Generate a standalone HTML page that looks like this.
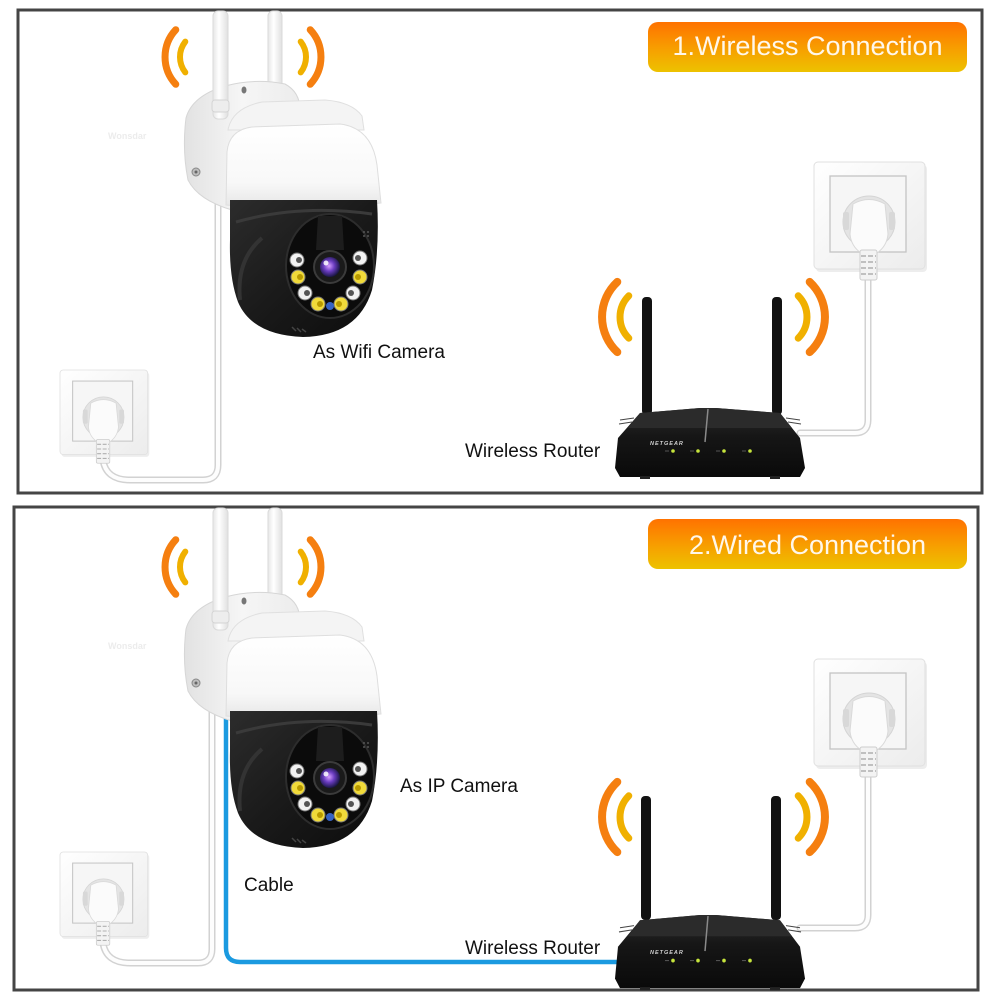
<!DOCTYPE html>
<html><head><meta charset="utf-8"><style>
html,body{margin:0;padding:0;background:#fff;}
svg{display:block;}
text{font-family:"Liberation Sans",Arial,sans-serif;}
</style></head><body>
<svg width="1000" height="1000" viewBox="0 0 1000 1000" xmlns="http://www.w3.org/2000/svg">
<defs>
 <linearGradient id="badge" x1="0" y1="0" x2="0" y2="1">
  <stop offset="0" stop-color="#ff7200"/><stop offset="0.55" stop-color="#f7a000"/><stop offset="1" stop-color="#edc200"/>
 </linearGradient>
 <linearGradient id="outGrad" x1="0" y1="0" x2="1" y2="1">
  <stop offset="0" stop-color="#ffffff"/><stop offset="1" stop-color="#ececec"/>
 </linearGradient>
 <linearGradient id="domeGrad" x1="0" y1="0" x2="0" y2="1">
  <stop offset="0" stop-color="#ffffff"/><stop offset="0.7" stop-color="#f8f8f8"/><stop offset="1" stop-color="#e6e6e6"/>
 </linearGradient>
 <linearGradient id="brGrad" x1="0" y1="0" x2="1" y2="0">
  <stop offset="0" stop-color="#e2e2e2"/><stop offset="0.5" stop-color="#f6f6f6"/><stop offset="1" stop-color="#ececec"/>
 </linearGradient>
 <linearGradient id="antGrad" x1="0" y1="0" x2="1" y2="0">
  <stop offset="0" stop-color="#e6e6e6"/><stop offset="0.4" stop-color="#ffffff"/><stop offset="1" stop-color="#e0e0e0"/>
 </linearGradient>
 <linearGradient id="blackGrad" x1="0" y1="0" x2="1" y2="1">
  <stop offset="0" stop-color="#2c2c2c"/><stop offset="0.5" stop-color="#1a1a1a"/><stop offset="1" stop-color="#0c0c0c"/>
 </linearGradient>
 <radialGradient id="lensGrad" cx="0.45" cy="0.45" r="0.6">
  <stop offset="0" stop-color="#d6a0ff"/><stop offset="0.45" stop-color="#6a3cc0"/><stop offset="1" stop-color="#0d1030"/>
 </radialGradient>
 <linearGradient id="rtGrad" x1="0" y1="0" x2="0" y2="1">
  <stop offset="0" stop-color="#2e2e2e"/><stop offset="0.4" stop-color="#161616"/><stop offset="1" stop-color="#0a0a0a"/>
 </linearGradient>

 <g id="outlet">
  <rect x="2" y="3" width="111" height="107" rx="4" fill="#000" opacity="0.07"/>
  <rect x="0" y="0" width="111" height="107" rx="4" fill="url(#outGrad)" stroke="#e0e0e0"/>
  <rect x="16" y="14" width="76" height="76" fill="#f6f6f6" stroke="#c4c4c4" stroke-width="1.3"/>
  <circle cx="55" cy="60" r="26" fill="#e4e4e4" stroke="#d4d4d4"/>
  <rect x="29" y="50" width="6" height="18" rx="2" fill="#d8d8d8"/>
  <rect x="75" y="50" width="6" height="18" rx="2" fill="#d8d8d8"/>
  <path d="M39,42 Q55,33 71,42 L74,72 Q73,84 63,91 L47,91 Q37,84 36,72 Z" fill="#fbfbfb" stroke="#d9d9d9"/>
  <rect x="46" y="88" width="17" height="30" rx="2" fill="#f3f3f3" stroke="#cdcdcd"/>
  <g stroke="#b0b0b0" stroke-width="1.4" stroke-dasharray="5 2">
   <line x1="47" y1="94" x2="62" y2="94"/><line x1="47" y1="100" x2="62" y2="100"/>
   <line x1="47" y1="106" x2="62" y2="106"/><line x1="47" y1="112" x2="62" y2="112"/>
  </g>
 </g>

 <g id="cambody">
  <path d="M186,118 Q192,96 225,86 Q255,78 285,84 Q300,92 300,110 L300,205 L232,210 Q198,200 188,180 Q182,150 186,118 Z" fill="url(#brGrad)" stroke="#d6d6d6"/>
  <circle cx="196" cy="172" r="4" fill="#bdbdbd" stroke="#888"/>
  <circle cx="196" cy="172" r="1.5" fill="#666"/>
  <ellipse cx="244" cy="90" rx="2.5" ry="3.5" fill="#777"/>
 </g>
 <g id="camfront">
  <path d="M228,130 Q232,108 262,102 L325,100 Q352,102 362,116 L364,130 Z" fill="#f4f4f4" stroke="#e0e0e0"/>
  <path d="M226,205 L227,152 Q229,130 252,127 L340,124 Q372,128 377,165 L381,203 Q300,211 226,205 Z" fill="url(#domeGrad)" stroke="#dedede"/>
  <path d="M230,200 L377,200 Q380,250 372,290 Q358,336 303,337 Q252,335 238,302 Q229,278 230,240 Z" fill="url(#blackGrad)"/>
  <path d="M236,222 Q300,204 372,214" stroke="#3a3a3a" stroke-width="3" fill="none"/>
  <path d="M240,300 Q236,260 262,238" stroke="#333" stroke-width="4" fill="none"/>
  <ellipse cx="330" cy="266" rx="44" ry="52" fill="#0b0b0b" stroke="#2d2d2d" stroke-width="2"/>
  <path d="M318,216 L342,216 L344,250 L316,250 Z" fill="#1d1d1d"/>
  <circle cx="330" cy="267" r="16" fill="#1a1a1a" stroke="#3b3b3b" stroke-width="2"/>
  <circle cx="330" cy="267" r="10" fill="url(#lensGrad)"/>
  <circle cx="326" cy="263" r="2.5" fill="#fff" opacity="0.85"/>
  <g stroke="#777" stroke-width="1">
   <circle cx="297" cy="260" r="7" fill="#f2f2f2"/><circle cx="360" cy="258" r="7" fill="#f2f2f2"/>
   <circle cx="305" cy="293" r="7" fill="#f2f2f2"/><circle cx="353" cy="293" r="7" fill="#f2f2f2"/>
   <circle cx="298" cy="277" r="7" fill="#f0da3a"/><circle cx="360" cy="277" r="7" fill="#f0da3a"/>
   <circle cx="318" cy="304" r="7" fill="#f0da3a"/><circle cx="341" cy="304" r="7" fill="#f0da3a"/>
  </g>
  <g fill="#555">
   <circle cx="299" cy="260" r="3"/><circle cx="358" cy="258" r="3"/>
   <circle cx="307" cy="293" r="3"/><circle cx="351" cy="293" r="3"/>
  </g>
  <g fill="#b89a00">
   <circle cx="300" cy="277" r="3"/><circle cx="358" cy="277" r="3"/>
   <circle cx="320" cy="304" r="3"/><circle cx="339" cy="304" r="3"/>
  </g>
  <circle cx="330" cy="306" r="4" fill="#3563c4"/>
  <g fill="#555"><circle cx="364" cy="232" r="1"/><circle cx="368" cy="232" r="1"/><circle cx="364" cy="236" r="1"/><circle cx="368" cy="236" r="1"/></g>
  <path d="M292,327 L296,331 M297,328 L301,332 M302,329 L306,332" stroke="#444" stroke-width="1.5"/>
 </g>

 <g id="router">
  <path d="M640,413 L700,408 L716,408 L780,413 L800,438 L805,468 L800,477 L620,477 L615,468 L618,438 Z" fill="url(#rtGrad)"/>
  <path d="M640,413 L700,408 L716,408 L780,413 L792,428 L628,428 Z" fill="#2b2b2b"/>
  <path d="M708,409 L705,442" stroke="#8a8a8a" stroke-width="1.5"/>
  <g stroke="#444" stroke-width="1"><line x1="620" y1="420" x2="634" y2="418"/><line x1="619" y1="424" x2="632" y2="422"/><line x1="786" y1="418" x2="800" y2="420"/><line x1="788" y1="422" x2="801" y2="424"/></g>
  <text x="650" y="445" font-size="5.5" font-weight="bold" font-style="italic" fill="#cfcfcf" letter-spacing="1">NETGEAR</text>
  <g fill="#c6e43c"><circle cx="673" cy="451" r="1.8"/><circle cx="698" cy="451" r="1.8"/><circle cx="724" cy="451" r="1.8"/><circle cx="750" cy="451" r="1.8"/></g>
  <g stroke="#555" stroke-width="1"><line x1="665" y1="451" x2="669" y2="451"/><line x1="690" y1="451" x2="694" y2="451"/><line x1="716" y1="451" x2="720" y2="451"/><line x1="742" y1="451" x2="746" y2="451"/></g>
  <rect x="640" y="476" width="10" height="3" fill="#222"/><rect x="770" y="476" width="10" height="3" fill="#222"/>
 </g>
</defs>

<!-- ===== Panel 1 ===== -->
<rect x="18" y="10" width="964" height="483" fill="#fff" stroke="#454545" stroke-width="3"/>
<rect x="648" y="22" width="319" height="50" rx="10" fill="url(#badge)"/>
<text x="807.5" y="55" font-size="27" fill="#fff7ea" text-anchor="middle">1.Wireless Connection</text>

<text x="108" y="139" font-size="9" fill="#ececec" font-weight="bold">Wonsdar</text>

<g fill="none" stroke-linecap="round">
 <path d="M103,460 Q106,480 130,480 L203,480 Q218,480 218,465 L218,200" stroke="#d2d2d2" stroke-width="7"/>
 <path d="M103,460 Q106,480 130,480 L203,480 Q218,480 218,465 L218,200" stroke="#fdfdfd" stroke-width="4"/>
 <path d="M868,278 L868,420 Q868,433 855,433 L800,433" stroke="#d2d2d2" stroke-width="7"/>
 <path d="M868,278 L868,420 Q868,433 855,433 L800,433" stroke="#fdfdfd" stroke-width="4"/>
</g>

<rect x="268" y="11" width="14" height="100" rx="5" fill="url(#antGrad)" stroke="#dadada"/>
<use href="#cambody"/>
<rect x="213" y="11" width="15" height="108" rx="5" fill="url(#antGrad)" stroke="#dadada"/>
<rect x="212" y="100" width="17" height="12" rx="3" fill="#ededed" stroke="#d4d4d4"/>
<use href="#camfront"/>

<g fill="none" stroke-linecap="round">
 <path d="M175.8,29.7 A40,40 0 0 0 175.8,84.3" stroke="#f57f10" stroke-width="7"/>
 <path d="M185.3,41.6 A25,25 0 0 0 185.3,72.4" stroke="#f0b000" stroke-width="6"/>
 <path d="M310.2,29.7 A40,40 0 0 1 310.2,84.3" stroke="#f57f10" stroke-width="7"/>
 <path d="M300.7,41.6 A25,25 0 0 1 300.7,72.4" stroke="#f0b000" stroke-width="6"/>
</g>

<use href="#outlet" transform="translate(60,370) scale(0.79)"/>
<use href="#outlet" transform="translate(814,162)"/>

<rect x="642" y="297" width="10" height="118" rx="4" fill="#121212"/>
<rect x="772" y="297" width="10" height="118" rx="4" fill="#121212"/>
<use href="#router"/>
<g fill="none" stroke-linecap="round">
 <path d="M617.3,281.9 A48,48 0 0 0 617.3,352.1" stroke="#f57f10" stroke-width="8"/>
 <path d="M628.8,295.8 A30,30 0 0 0 628.8,338.2" stroke="#f0b000" stroke-width="7"/>
 <path d="M809.7,281.9 A48,48 0 0 1 809.7,352.1" stroke="#f57f10" stroke-width="8"/>
 <path d="M798.2,295.8 A30,30 0 0 1 798.2,338.2" stroke="#f0b000" stroke-width="7"/>
</g>

<text x="313" y="358" font-size="19" fill="#111">As Wifi Camera</text>
<text x="465" y="457" font-size="19" fill="#111">Wireless Router</text>

<!-- ===== Panel 2 ===== -->
<rect x="14" y="507" width="964" height="483" fill="#fff" stroke="#454545" stroke-width="3"/>
<rect x="648" y="519" width="319" height="50" rx="10" fill="url(#badge)"/>
<text x="807.5" y="554" font-size="27" fill="#fff7ea" text-anchor="middle">2.Wired Connection</text>

<text x="108" y="649" font-size="9" fill="#ececec" font-weight="bold">Wonsdar</text>

<g fill="none" stroke-linecap="round">
 <path d="M103,943 Q106,963 130,963 L198,963 Q212,963 212,949 L212,712" stroke="#d2d2d2" stroke-width="7"/>
 <path d="M103,943 Q106,963 130,963 L198,963 Q212,963 212,949 L212,712" stroke="#fdfdfd" stroke-width="4"/>
 <path d="M226,712 L226,948 Q226,962 240,962 L628,962" stroke="#1b9ae0" stroke-width="4.5"/>
 <path d="M868,775 L868,915 Q868,928 855,928 L800,928" stroke="#d2d2d2" stroke-width="7"/>
 <path d="M868,775 L868,915 Q868,928 855,928 L800,928" stroke="#fdfdfd" stroke-width="4"/>
</g>

<rect x="268" y="508" width="14" height="114" rx="5" fill="url(#antGrad)" stroke="#dadada"/>
<use href="#cambody" transform="translate(0,511)"/>
<rect x="213" y="508" width="15" height="122" rx="5" fill="url(#antGrad)" stroke="#dadada"/>
<rect x="212" y="611" width="17" height="12" rx="3" fill="#ededed" stroke="#d4d4d4"/>
<use href="#camfront" transform="translate(0,511)"/>

<g fill="none" stroke-linecap="round" transform="translate(0,510)">
 <path d="M175.8,29.7 A40,40 0 0 0 175.8,84.3" stroke="#f57f10" stroke-width="7"/>
 <path d="M185.3,41.6 A25,25 0 0 0 185.3,72.4" stroke="#f0b000" stroke-width="6"/>
 <path d="M310.2,29.7 A40,40 0 0 1 310.2,84.3" stroke="#f57f10" stroke-width="7"/>
 <path d="M300.7,41.6 A25,25 0 0 1 300.7,72.4" stroke="#f0b000" stroke-width="6"/>
</g>

<use href="#outlet" transform="translate(60,852) scale(0.79)"/>
<use href="#outlet" transform="translate(814,659)"/>

<rect x="641" y="796" width="10" height="124" rx="4" fill="#121212"/>
<rect x="771" y="796" width="10" height="124" rx="4" fill="#121212"/>
<use href="#router" transform="translate(0,507) translate(710,408) scale(1,1.06) translate(-710,-408)"/>
<g fill="none" stroke-linecap="round" transform="translate(0,500)">
 <path d="M617.3,281.9 A48,48 0 0 0 617.3,352.1" stroke="#f57f10" stroke-width="8"/>
 <path d="M628.8,295.8 A30,30 0 0 0 628.8,338.2" stroke="#f0b000" stroke-width="7"/>
 <path d="M809.7,281.9 A48,48 0 0 1 809.7,352.1" stroke="#f57f10" stroke-width="8"/>
 <path d="M798.2,295.8 A30,30 0 0 1 798.2,338.2" stroke="#f0b000" stroke-width="7"/>
</g>

<text x="400" y="792" font-size="19" fill="#111">As IP Camera</text>
<text x="244" y="891" font-size="19" fill="#111">Cable</text>
<text x="465" y="954" font-size="19" fill="#111">Wireless Router</text>
</svg>
</body></html>
